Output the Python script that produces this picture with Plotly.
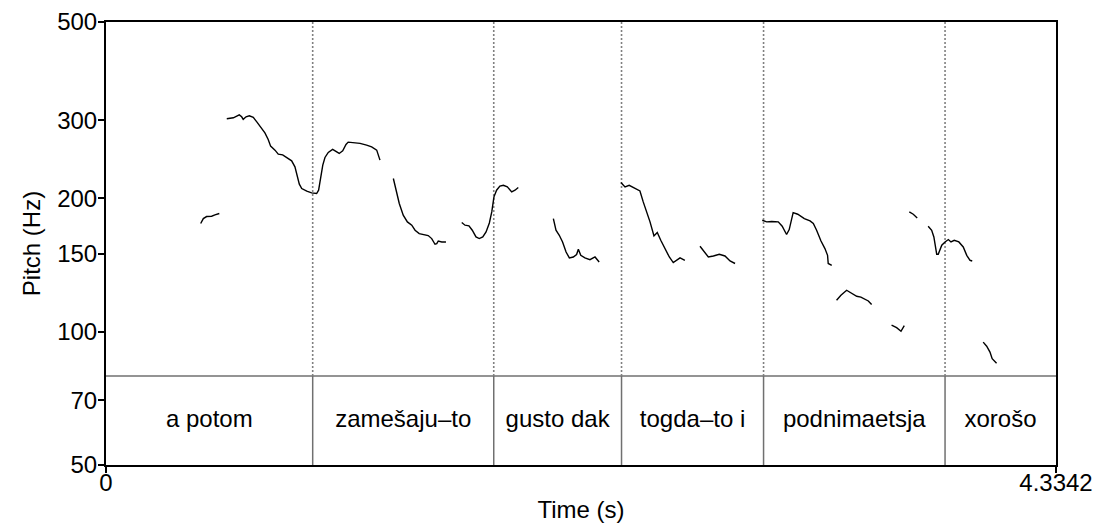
import math
import plotly.graph_objects as go

# ---- data ----
total_duration = 4.3342
y_tick_values = [50, 70, 100, 150, 200, 300, 500]
x_tick_values = [0, 4.3342]
x_tick_labels = ["0", "4.3342"]

# TextGrid intervals (boundaries in seconds) and their labels
interval_bounds = [0.0, 0.943, 1.769, 2.352, 3.000, 3.828, 4.3342]
interval_labels = ["a potom", "zamešaju–to", "gusto dak", "togda–to i", "podnimaetsja", "xorošo"]
tier_top_hz = 79.4

# Pitch contour, one list per voiced stretch
segment_times = [
    [0.432, 0.444, 0.459, 0.482, 0.497, 0.517],
    [0.551, 0.581, 0.608, 0.619, 0.626, 0.639, 0.654, 0.672, 0.688, 0.706, 0.725, 0.740,
     0.751, 0.771, 0.786, 0.806, 0.824, 0.847, 0.862, 0.873, 0.882, 0.893, 0.916, 0.938,
     0.961, 0.970, 0.979, 0.989, 0.999, 1.014, 1.034, 1.049, 1.064, 1.080, 1.095, 1.105,
     1.128, 1.159, 1.189, 1.212, 1.235, 1.242, 1.250],
    [1.311, 1.323, 1.338, 1.356, 1.375, 1.395, 1.410, 1.429, 1.448, 1.470, 1.486, 1.501,
     1.509, 1.516, 1.532, 1.551],
    [1.623, 1.638, 1.656, 1.671, 1.688, 1.703, 1.719, 1.734, 1.749, 1.760, 1.770, 1.782,
     1.797, 1.813, 1.831, 1.851, 1.866, 1.881],
    [2.041, 2.053, 2.068, 2.083, 2.099, 2.114, 2.132, 2.147, 2.155, 2.166, 2.185, 2.208,
     2.231, 2.250],
    [2.349, 2.368, 2.387, 2.413, 2.436, 2.451, 2.467, 2.482, 2.500, 2.515, 2.531, 2.550,
     2.570, 2.588, 2.604, 2.619, 2.641],
    [2.710, 2.725, 2.748, 2.771, 2.798, 2.824, 2.847, 2.870],
    [2.994, 3.014, 3.037, 3.067, 3.085, 3.105, 3.117, 3.135, 3.156, 3.186, 3.212, 3.227,
     3.242, 3.262, 3.280, 3.292, 3.295, 3.311],
    [3.333, 3.353, 3.379, 3.402, 3.425, 3.444, 3.463, 3.478, 3.493],
    [3.584, 3.607, 3.627, 3.642],
    [3.665, 3.683, 3.701],
    [3.751, 3.767, 3.777, 3.782, 3.790, 3.797, 3.813, 3.828, 3.843, 3.855, 3.870, 3.891,
     3.911, 3.927, 3.942, 3.952],
    [4.002, 4.018, 4.033, 4.043, 4.063],
]
segment_hz = [
    [175.4, 180.0, 181.9, 182.2, 183.4, 184.8],
    [302.3, 303.9, 308.6, 305.5, 301.4, 305.5, 307.0, 304.5, 297.6, 290.0, 281.0, 271.6,
     262.3, 256.9, 251.6, 250.6, 247.3, 243.0, 235.5, 225.5, 215.2, 210.4, 207.5, 205.7,
     205.0, 208.6, 221.7, 237.6, 247.3, 253.8, 257.8, 254.6, 252.5, 255.9, 264.6, 267.8,
     266.8, 266.0, 263.6, 261.3, 256.9, 251.2, 243.9],
    [221.7, 208.6, 194.7, 183.2, 176.9, 173.9, 169.4, 166.5, 165.7, 164.8, 162.2, 157.5,
     158.0, 160.2, 159.4, 159.4],
    [176.3, 173.9, 173.3, 169.4, 163.6, 162.2, 163.6, 167.9, 175.9, 186.3, 201.5, 208.6,
     213.0, 214.0, 212.2, 206.7, 208.6, 211.5],
    [180.0, 169.4, 165.0, 159.4, 151.3, 146.7, 147.4, 149.3, 153.5, 148.7, 146.7, 145.4,
     147.4, 143.6],
    [217.1, 212.2, 214.0, 211.1, 207.8, 196.3, 186.3, 176.9, 164.5, 167.4, 160.8, 154.5,
     147.4, 143.2, 144.9, 146.7, 144.9],
    [155.9, 152.6, 147.4, 148.2, 149.5, 148.2, 144.4, 142.5],
    [178.4, 176.9, 177.3, 176.9, 173.0, 165.7, 170.0, 185.7, 184.1, 180.0, 177.8, 175.4,
     169.4, 160.2, 154.0, 148.7, 142.5, 141.2],
    [117.7, 120.8, 124.0, 121.8, 120.2, 119.7, 118.1, 117.3, 115.1],
    [103.4, 102.1, 100.2, 103.2],
    [186.3, 184.1, 180.6],
    [173.0, 169.4, 163.6, 158.0, 149.5, 149.5, 156.7, 159.4, 161.4, 159.4, 160.8, 159.4,
     155.3, 148.7, 144.9, 144.4],
    [94.7, 92.7, 89.9, 86.9, 84.9],
]

# ---- figure ----
FONT = "Liberation Sans, Arial, Helvetica, sans-serif"
FS = 24
fig = go.Figure()

# tier top line
fig.add_trace(go.Scatter(x=[0, total_duration], y=[tier_top_hz, tier_top_hz], mode="lines",
                         line=dict(color="#707070", width=1.5), hoverinfo="skip", showlegend=False))

# interval boundaries: solid inside the tier, dotted above it
for b in interval_bounds[1:-1]:
    fig.add_trace(go.Scatter(x=[b, b], y=[50, tier_top_hz], mode="lines",
                             line=dict(color="#707070", width=1.5), hoverinfo="skip", showlegend=False))
    fig.add_trace(go.Scatter(x=[b, b], y=[tier_top_hz, 500], mode="lines",
                             line=dict(color="#808080", width=1.6, dash="2px,2px"),
                             hoverinfo="skip", showlegend=False))

# interval labels
label_x = [(interval_bounds[i] + interval_bounds[i + 1]) / 2 for i in range(len(interval_labels))]
label_y = [math.sqrt(50 * tier_top_hz)] * len(interval_labels)
fig.add_trace(go.Scatter(x=label_x, y=label_y, mode="text", text=interval_labels,
                         textposition="middle center",
                         textfont=dict(family=FONT, size=FS, color="black"),
                         hoverinfo="skip", showlegend=False))

# pitch contour
xs, ys = [], []
for t, h in zip(segment_times, segment_hz):
    xs += t + [None]
    ys += h + [None]
fig.add_trace(go.Scatter(x=xs, y=ys, mode="lines", connectgaps=False,
                         line=dict(color="black", width=1.4), showlegend=False))

fig.update_layout(
    template="none",
    width=1094, height=524,
    margin=dict(l=106, r=38, t=22, b=59, autoexpand=False),
    paper_bgcolor="white", plot_bgcolor="white",
    font=dict(family=FONT, size=FS, color="black"),
    showlegend=False,
)
fig.update_xaxes(
    automargin=False,
    range=[0, total_duration], showgrid=False, zeroline=False,
    showline=True, linecolor="black", linewidth=2, mirror=True,
    ticks="outside", ticklen=6, tickwidth=2, tickcolor="black",
    tickvals=x_tick_values, ticktext=x_tick_labels, ticklabelstandoff=-11,
    tickfont=dict(family=FONT, size=FS),
    title=dict(text="Time (s)", font=dict(family=FONT, size=FS), standoff=6),
)
fig.update_yaxes(
    automargin=False,
    type="log", range=[math.log10(50), math.log10(500)], showgrid=False, zeroline=False,
    showline=True, linecolor="black", linewidth=2, mirror=True,
    ticks="outside", ticklen=6, tickwidth=2, tickcolor="black",
    tickvals=y_tick_values, ticktext=[str(v) for v in y_tick_values], ticklabelstandoff=-4,
    tickfont=dict(family=FONT, size=FS),
    title=dict(text="Pitch (Hz)", font=dict(family=FONT, size=FS), standoff=10),
)

fig.write_html("out.html")
